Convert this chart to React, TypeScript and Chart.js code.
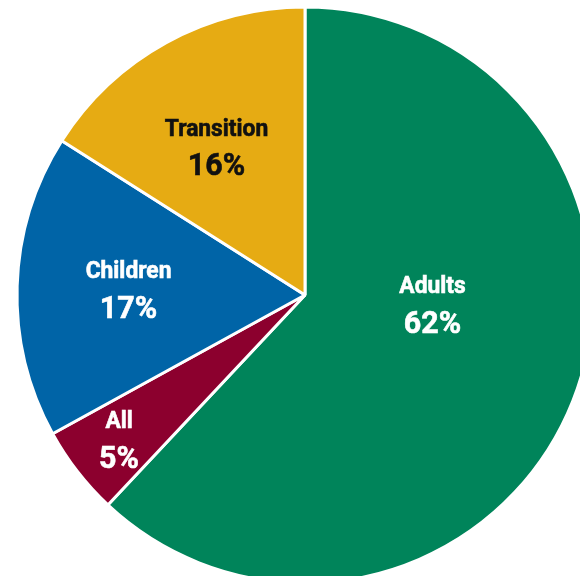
import React, { useEffect, useRef } from "react";
import { Chart, registerables } from "chart.js";

Chart.register(...registerables);

const categories = ["Adults", "All", "Children", "Transition"];
const shares = [62, 5, 17, 16];
const sliceColors = ["#00845A", "#8C002E", "#0064A7", "#E6AB13"];
const labelColors = ["#FFFFFF", "#FFFFFF", "#FFFFFF", "#111111"];
// label anchor: fraction of radius along the slice's middle angle, plus angle shift (deg)
const labelRadius = [0.444, 0.817, 0.613, 0.6];
const labelAngleShift = [-17.5, 0, 0, -2];

const labelPlugin = {
  id: "sliceLabels",
  afterDatasetsDraw(chart: any) {
    const ctx = chart.ctx;
    const meta = chart.getDatasetMeta(0);
    meta.data.forEach((arc: any, i: number) => {
      const { x, y, startAngle, endAngle, outerRadius } = arc.getProps(
        ["x", "y", "startAngle", "endAngle", "outerRadius"],
        true
      );
      const mid = (startAngle + endAngle) / 2 + (labelAngleShift[i] * Math.PI) / 180;
      const r = outerRadius * labelRadius[i];
      const cx = x + Math.cos(mid) * r;
      const cy = y + Math.sin(mid) * r;
      ctx.save();
      ctx.fillStyle = labelColors[i];
      ctx.strokeStyle = labelColors[i];
      ctx.lineWidth = 0.6;
      ctx.textAlign = "center";
      ctx.textBaseline = "middle";
      ctx.translate(cx, cy);
      ctx.scale(0.95, 1);
      ctx.font = "bold 24px Roboto";
      ctx.fillText(categories[i], 0, -17);
      ctx.strokeText(categories[i], 0, -17);
      ctx.font = "bold 32px Roboto";
      ctx.fillText(shares[i] + "%", 0, 20.5);
      ctx.strokeText(shares[i] + "%", 0, 20.5);
      ctx.restore();
    });
  },
};

export default function App() {
  const ref = useRef<HTMLCanvasElement | null>(null);
  useEffect(() => {
    if (!ref.current) return;
    const chart = new Chart(ref.current, {
      type: "pie",
      data: {
        labels: categories,
        datasets: [
          {
            data: shares,
            backgroundColor: sliceColors,
            borderColor: "#FFFFFF",
            borderWidth: 3,
            radius: 288,
          } as any,
        ],
      },
      options: {
        responsive: false,
        animation: false,
        layout: { padding: 0 },
        plugins: {
          legend: { display: false },
          tooltip: { enabled: false },
        },
      },
      plugins: [labelPlugin],
    });
    return () => chart.destroy();
  }, []);
  return (
    <div
      style={{
        position: "fixed",
        left: 0,
        top: 0,
        width: 580,
        height: 576,
        overflow: "hidden",
        background: "#FFFFFF",
      }}
    >
      <canvas ref={ref} width={610} height={590} style={{ display: "block" }} />
    </div>
  );
}
